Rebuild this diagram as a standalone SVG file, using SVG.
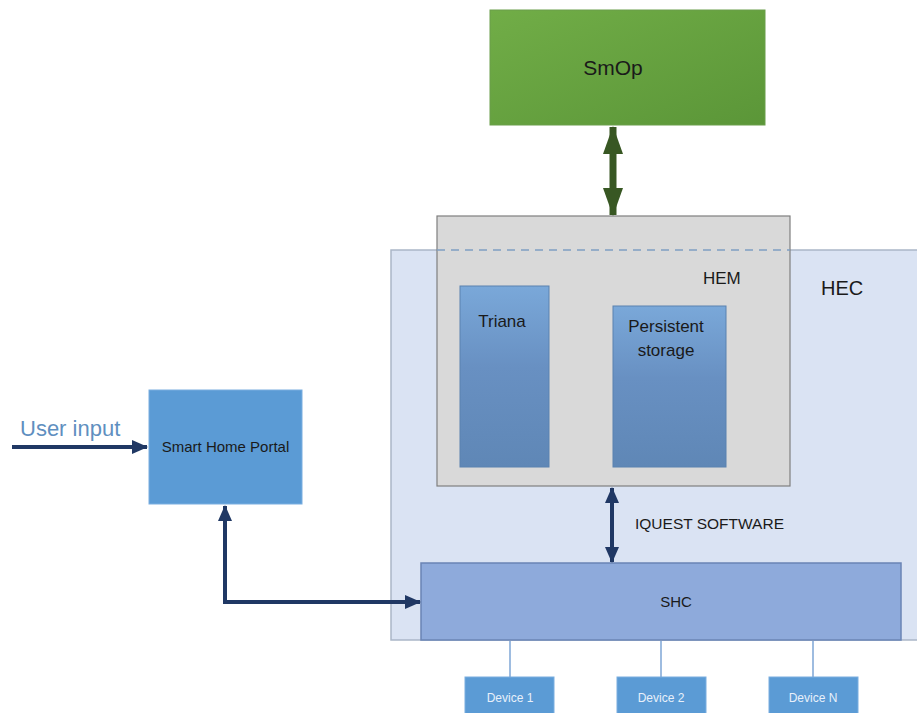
<svg xmlns="http://www.w3.org/2000/svg" width="917" height="713" viewBox="0 0 917 713">
  <defs>
    <linearGradient id="gGreen" x1="0" y1="0" x2="1" y2="1">
      <stop offset="0" stop-color="#71ad47"/>
      <stop offset="1" stop-color="#5b9638"/>
    </linearGradient>
    <linearGradient id="gBlue" x1="0" y1="0" x2="0" y2="1">
      <stop offset="0" stop-color="#7aa8d9"/>
      <stop offset="0.45" stop-color="#6890c2"/>
      <stop offset="1" stop-color="#5f87b6"/>
    </linearGradient>
    <marker id="navyHead" viewBox="0 0 16 14" refX="15" refY="7" markerWidth="16" markerHeight="14" markerUnits="userSpaceOnUse" orient="auto-start-reverse">
      <path d="M0,0 L16,7 L0,14 z" fill="#203864"/>
    </marker>
    <marker id="greenHead" viewBox="0 0 28 20" refX="27" refY="10" markerWidth="28" markerHeight="20" markerUnits="userSpaceOnUse" orient="auto-start-reverse">
      <path d="M0,0 L28,10 L0,20 z" fill="#385723"/>
    </marker>
  </defs>
  <style>
    text { font-family: "Liberation Sans", Arial, sans-serif; fill: #1a1a1a; }
    .dev rect { fill: #5b9bd5; stroke: #7aaee0; stroke-width: 1; }
    .dev text { fill: #e8f0fa; font-size: 12px; text-anchor: middle; }
    .navy { stroke: #203864; stroke-width: 4; fill: none; }
    .tap { stroke: #7ea6d6; stroke-width: 1.5; }
  </style>

  <rect width="917" height="713" fill="#ffffff"/>

  <!-- HEC container -->
  <g id="hec">
    <rect x="391" y="250" width="530" height="390" fill="#dae3f3" stroke="#aab6c8" stroke-width="1.5"/>
    <text x="821" y="295" font-size="20">HEC</text>
  </g>

  <!-- HEM block with its inner components -->
  <g id="hem">
    <rect x="437" y="216" width="353" height="270" fill="#d9d9d9" stroke="#7f7f7f" stroke-width="1.2"/>
    <line x1="437" y1="250" x2="790" y2="250" stroke="#7f9fc2" stroke-width="1.5" stroke-dasharray="8,6"/>
    <text x="703" y="284" font-size="17">HEM</text>
  </g>

  <g id="triana">
    <rect x="460" y="286" width="89" height="181" fill="url(#gBlue)" stroke="#5b82b0" stroke-width="1"/>
    <text x="502" y="327" font-size="17" text-anchor="middle">Triana</text>
  </g>

  <g id="storage">
    <rect x="613" y="306" width="113" height="161" fill="url(#gBlue)" stroke="#5b82b0" stroke-width="1"/>
    <text x="666" y="332" font-size="17" text-anchor="middle">Persistent</text>
    <text x="666" y="356" font-size="17" text-anchor="middle">storage</text>
  </g>

  <g id="smop">
    <rect x="490" y="10" width="275" height="115" fill="url(#gGreen)" stroke="#6a9e4a" stroke-width="1"/>
    <text x="613" y="75" font-size="21" text-anchor="middle">SmOp</text>
  </g>

  <g id="portal">
    <rect x="149" y="390" width="153" height="114" fill="#5b9bd5" stroke="#7aaee0" stroke-width="1"/>
    <text x="225.5" y="452" font-size="15" text-anchor="middle">Smart Home Portal</text>
  </g>

  <g id="shc">
    <rect x="421" y="563" width="480" height="77" fill="#8eaadb" stroke="#6a84b5" stroke-width="1.5"/>
    <text x="676" y="607" font-size="15" text-anchor="middle">SHC</text>
  </g>

  <g id="device1" class="dev">
    <rect x="465" y="677" width="89" height="40"/>
    <text x="510" y="702">Device 1</text>
  </g>
  <g id="device2" class="dev">
    <rect x="617" y="677" width="89" height="40"/>
    <text x="661" y="702">Device 2</text>
  </g>
  <g id="deviceN" class="dev">
    <rect x="769" y="677" width="89" height="40"/>
    <text x="813" y="702">Device N</text>
  </g>

  <!-- connectors -->
  <g id="connectors">
    <line x1="613" y1="127" x2="613" y2="215" stroke="#385723" stroke-width="7" marker-start="url(#greenHead)" marker-end="url(#greenHead)"/>
    <line x1="612" y1="488" x2="612" y2="562" class="navy" marker-start="url(#navyHead)" marker-end="url(#navyHead)"/>
    <line x1="12" y1="447" x2="147" y2="447" class="navy" marker-end="url(#navyHead)"/>
    <polyline points="225,506 225,602 420,602" class="navy" marker-start="url(#navyHead)" marker-end="url(#navyHead)"/>
    <line x1="510" y1="641" x2="510" y2="677" class="tap"/>
    <line x1="661" y1="641" x2="661" y2="677" class="tap"/>
    <line x1="813" y1="641" x2="813" y2="677" class="tap"/>
  </g>

  <text x="20" y="436" font-size="22" style="fill:#5f8fc0">User input</text>
  <text x="635" y="529" font-size="15.5">IQUEST SOFTWARE</text>
</svg>
